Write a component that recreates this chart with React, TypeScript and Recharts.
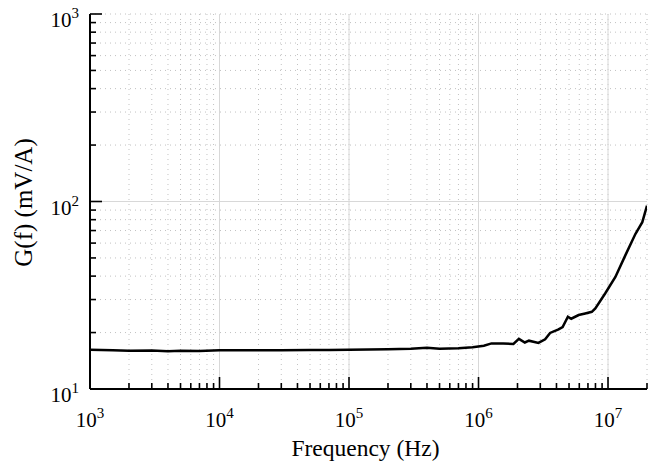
import React from 'react';
import { LineChart, Line, XAxis, YAxis, CartesianGrid, ReferenceLine } from 'recharts';

const frequencies = [
  1000, 1500, 2000, 3000, 4000, 5000, 7000, 10000, 20000, 30000, 50000, 70000,
  100000, 200000, 300000, 400000, 500000, 700000, 900000, 1100000, 1260000,
  1550000, 1860000, 2050000, 2280000, 2450000, 2900000, 3270000, 3570000,
  4150000, 4460000, 4900000, 5200000, 5930000, 6670000, 7500000, 7980000,
  9500000, 11400000, 13600000, 16300000, 18400000, 20000000,
];
const gains = [
  16.2, 16.1, 16.0, 16.05, 15.9, 16.0, 15.95, 16.1, 16.1, 16.1, 16.15, 16.15,
  16.2, 16.3, 16.4, 16.6, 16.4, 16.5, 16.7, 17.0, 17.5,
  17.5, 17.4, 18.5, 17.7, 18.1, 17.6, 18.4, 19.9,
  20.8, 21.4, 24.3, 23.7, 24.8, 25.3, 25.8, 26.9,
  32.3, 39.6, 51.6, 67.3, 77.6, 95,
];

const xMajorTicks = [1e3, 1e4, 1e5, 1e6, 1e7];
const xMinorTicks = [
  2e3, 3e3, 4e3, 5e3, 6e3, 7e3, 8e3, 9e3,
  2e4, 3e4, 4e4, 5e4, 6e4, 7e4, 8e4, 9e4,
  2e5, 3e5, 4e5, 5e5, 6e5, 7e5, 8e5, 9e5,
  2e6, 3e6, 4e6, 5e6, 6e6, 7e6, 8e6, 9e6,
  2e7,
];
const yMajorTicks = [10, 100, 1000];
const yMinorTicks = [20, 30, 40, 50, 60, 70, 80, 90, 200, 300, 400, 500, 600, 700, 800, 900];

const xDomain = [1e3, 2e7];
const yDomain = [10, 1000];
const xLabel = 'Frequency (Hz)';
const yLabel = 'G(f) (mV/A)';

const data = frequencies.map((f, i) => ({ f, g: gains[i] }));
const xTicks = [...xMajorTicks, ...xMinorTicks].sort((a, b) => a - b);
const yTicks = [...yMajorTicks, ...yMinorTicks].sort((a, b) => a - b);

const FONT = 'Liberation Serif';
const MAJOR = 12;
const MINOR = 6;
const isMajor = (v: number) => Math.abs(Math.log10(v) - Math.round(Math.log10(v))) < 1e-9;
const expOf = (v: number) => Math.round(Math.log10(v));

const Pow = ({ x, y, v, anchor }: any) => (
  <text x={x} y={y} textAnchor={anchor} fontFamily={FONT} fontSize={21} fill="#000">
    <tspan>10</tspan>
    <tspan dy={-9} fontSize={15}>{expOf(v)}</tspan>
  </text>
);

const BottomTick = (props: any) => {
  const { x, y, payload } = props;
  const v = payload.value;
  const major = isMajor(v);
  return (
    <g>
      <line x1={x} x2={x} y1={y} y2={y - (major ? MAJOR : MINOR)} stroke="#000" strokeWidth={1.6} />
      {major ? <Pow x={x} y={y + 38} v={v} anchor="middle" /> : null}
    </g>
  );
};

const TopTick = (props: any) => {
  const { x, y, payload } = props;
  const major = isMajor(payload.value);
  return <line x1={x} x2={x} y1={y} y2={y + (major ? MAJOR : MINOR)} stroke="#000" strokeWidth={1.6} />;
};

const LeftTick = (props: any) => {
  const { x, y, payload } = props;
  const v = payload.value;
  const major = isMajor(v);
  return (
    <g>
      <line x1={x} x2={x + (major ? MAJOR : MINOR)} y1={y} y2={y} stroke="#000" strokeWidth={1.6} />
      {major ? <Pow x={x - 11} y={y + 13} v={v} anchor="end" /> : null}
    </g>
  );
};

const RightTick = (props: any) => {
  const { x, y, payload } = props;
  const major = isMajor(payload.value);
  return <line x1={x} x2={x - (major ? MAJOR : MINOR)} y1={y} y2={y} stroke="#000" strokeWidth={1.6} />;
};

const XLabel = (props: any) => {
  const vb = props.viewBox || {};
  const cx = vb.x + vb.width / 2 - 3;
  return (
    <text x={cx} y={vb.y + 67} textAnchor="middle" fontFamily={FONT} fontSize={23.5} fill="#000">
      {xLabel}
    </text>
  );
};

const YLabel = (props: any) => {
  const vb = props.viewBox || {};
  const cx = vb.x + 32;
  const cy = vb.y + vb.height / 2 + 1;
  return (
    <text x={cx} y={cy} textAnchor="middle" transform={`rotate(-90 ${cx} ${cy})`} fontFamily={FONT} fontSize={25} fill="#000">
      {yLabel}
    </text>
  );
};

export default function App() {
  return (
    <div style={{ position: 'absolute', left: 0, top: 0, width: 665, height: 464, background: '#fff' }}>
      <LineChart width={665} height={464} data={data} margin={{ top: 14, right: 18, bottom: 0, left: 0 }}>
        <CartesianGrid
          xAxisId="bottom"
          yAxisId="left"
          stroke="#c2c2c2"
          strokeWidth={1}
          strokeDasharray="1 4"
        />
        {xMajorTicks.slice(1).map((v) => (
          <ReferenceLine key={'vx' + v} x={v} xAxisId="bottom" yAxisId="left" stroke="#d8d8d8" strokeWidth={1} />
        ))}
        <ReferenceLine y={100} xAxisId="bottom" yAxisId="left" stroke="#d8d8d8" strokeWidth={1} />
        <XAxis
          xAxisId="bottom"
          dataKey="f"
          type="number"
          scale="log"
          domain={xDomain}
          allowDataOverflow
          ticks={xTicks}
          interval={0}
          tickSize={0}
          tickMargin={0}
          tickLine={false}
          tick={<BottomTick />}
          axisLine={{ stroke: '#000', strokeWidth: 2 }}
          height={75}
          label={<XLabel />}
        />
        <XAxis
          xAxisId="top"
          orientation="top"
          dataKey="f"
          type="number"
          scale="log"
          domain={xDomain}
          allowDataOverflow
          ticks={xTicks}
          interval={0}
          tickSize={0}
          tickMargin={0}
          tickLine={false}
          tick={<TopTick />}
          axisLine={{ stroke: '#000', strokeWidth: 2 }}
          height={0}
        />
        <YAxis
          yAxisId="left"
          type="number"
          scale="log"
          domain={yDomain}
          allowDataOverflow
          ticks={yTicks}
          interval={0}
          tickSize={0}
          tickMargin={0}
          tickLine={false}
          tick={<LeftTick />}
          axisLine={{ stroke: '#000', strokeWidth: 2 }}
          width={90}
          label={<YLabel />}
        />
        <YAxis
          yAxisId="right"
          orientation="right"
          type="number"
          scale="log"
          domain={yDomain}
          allowDataOverflow
          ticks={yTicks}
          interval={0}
          tickSize={0}
          tickMargin={0}
          tickLine={false}
          tick={<RightTick />}
          axisLine={{ stroke: '#000', strokeWidth: 2 }}
          width={0}
        />
        <Line
          xAxisId="bottom"
          yAxisId="left"
          dataKey="g"
          type="linear"
          stroke="#000"
          strokeWidth={2.5}
          dot={false}
          isAnimationActive={false}
        />
      </LineChart>
    </div>
  );
}
